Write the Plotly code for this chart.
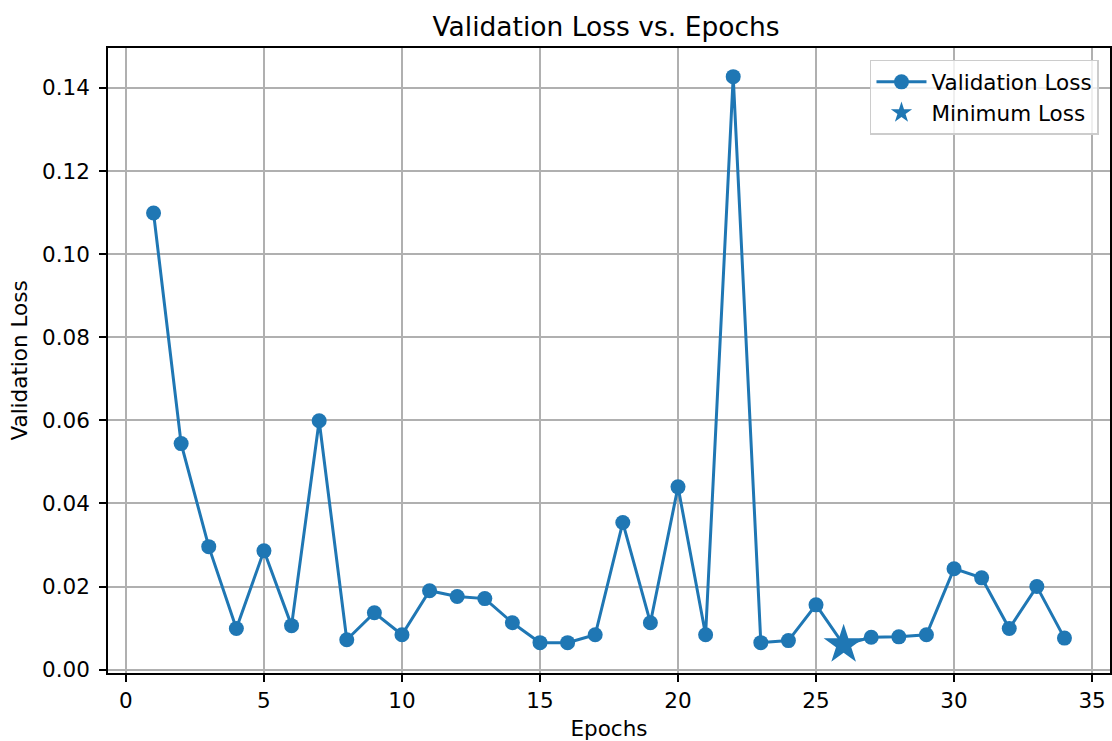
import plotly.graph_objects as go

epochs = list(range(1, 35))
val_loss = [0.1099, 0.0544, 0.0296, 0.0099, 0.0286, 0.0106, 0.0599, 0.0072, 0.0137, 0.0084,
            0.0190, 0.0176, 0.0171, 0.0113, 0.0065, 0.0065, 0.0084, 0.0354, 0.0113, 0.0440,
            0.0084, 0.1427, 0.0065, 0.0070, 0.0156, 0.0060, 0.0078, 0.0079, 0.0084, 0.0243,
            0.0221, 0.0099, 0.0200, 0.0076]
x_ticks = [0, 5, 10, 15, 20, 25, 30, 35]
y_ticks = [0.00, 0.02, 0.04, 0.06, 0.08, 0.10, 0.12, 0.14]

min_idx = val_loss.index(min(val_loss))
min_epoch = [epochs[min_idx]]
min_loss = [val_loss[min_idx]]

color = "#1f77b4"
font = "DejaVu Sans, sans-serif"
fs = 21.5

fig = go.Figure()
fig.add_trace(go.Scatter(x=epochs, y=val_loss, mode="lines+markers", name="Validation Loss",
                         legendgroup="a",
                         line=dict(color=color, width=3),
                         marker=dict(color=color, size=15)))
fig.add_trace(go.Scatter(x=min_epoch, y=min_loss, mode="markers", name="Minimum Loss",
                         legendgroup="b",
                         marker=dict(color=color, size=30, symbol="star", line=dict(width=0))))

axis_common = dict(showline=True, mirror=True, linecolor="black", linewidth=1.6,
                   ticks="outside", ticklen=7, tickwidth=1.6, tickcolor="black",
                   showgrid=True, gridcolor="#b0b0b0", gridwidth=1.6, zeroline=False,
                   tickfont=dict(family=font, size=fs, color="black"))

fig.update_layout(
    width=1112, height=741,
    margin=dict(l=108, r=0, t=48, b=68),
    paper_bgcolor="white", plot_bgcolor="white",
    title=dict(text="Validation Loss vs. Epochs", x=0.545, xanchor="center", y=0.9636, yanchor="middle",
               font=dict(family=font, size=26.5, color="black")),
    xaxis=dict(range=[-0.65, 35.65], tickvals=x_ticks,
               title=dict(text="Epochs", font=dict(family=font, size=fs, color="black"), standoff=12),
               **axis_common),
    yaxis=dict(range=[-0.0008, 0.1496], tickvals=y_ticks, tickformat=".2f", ticklabelstandoff=5,
               title=dict(text="Validation Loss", font=dict(family=font, size=fs, color="black"), standoff=9),
               **axis_common),
    legend=dict(x=0.989, y=0.981, xanchor="right", yanchor="top",
                bgcolor="rgba(255,255,255,0.8)", bordercolor="#cccccc", borderwidth=1.5,
                tracegroupgap=0, itemwidth=50,
                font=dict(family=font, size=fs, color="black")),
    showlegend=True,
)

fig.write_html("out.html", config={"displayModeBar": False},
               post_script="document.body.style.margin='0px';")
